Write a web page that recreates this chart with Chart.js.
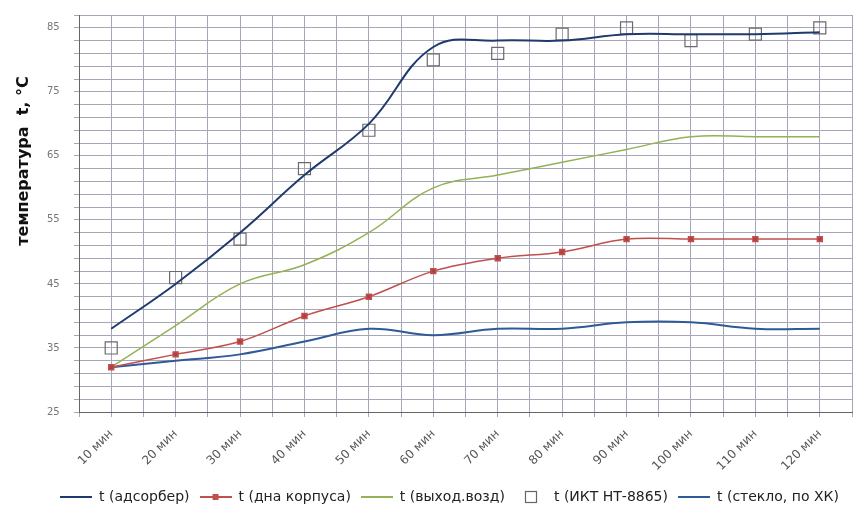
<!DOCTYPE html>
<html>
<head>
<meta charset="utf-8">
<script src="https://cdn.jsdelivr.net/npm/chart.js@4/dist/chart.umd.min.js"></script>
<style>
  html, body { margin: 0; padding: 0; background: #fff; }
  #wrap { width: 868px; height: 517px; }
</style>
</head>
<body>
<div id="wrap"><canvas id="tempChart"></canvas></div>
<script>
// время замера
const categories = ["10 мин", "20 мин", "30 мин", "40 мин", "50 мин", "60 мин",
  "70 мин", "80 мин", "90 мин", "100 мин", "110 мин", "120 мин"];

const adsorber = [38, 45, 53, 62, 70, 82, 83, 83, 84, 84, 84, 84.3];
const bottom = [32, 34, 36, 40, 43, 47, 49, 50, 52, 52, 52, 52];
const outletAir = [32, 38.5, 45, 48, 53, 60, 62, 64, 66, 68, 68, 68];
const iktPoints = [35, 46, 52, 63, 69, 80, 81, 84, 85, 83, 84, 85];
const glass = [32, 33, 34, 36, 38, 37, 38, 38, 39, 39, 38, 38];

const yTickLabels = [25, 35, 45, 55, 65, 75, 85];

const FONT = "'DejaVu Sans', Verdana, sans-serif";

function toPoints(arr) {
  return arr.map((v, i) => ({ x: i + 1, y: v }));
}

// значок легенды: линия, при необходимости с маркером посередине
function legendIcon(color, marker, lineOn) {
  const c = document.createElement("canvas");
  c.width = 32;
  c.height = 14;
  const g = c.getContext("2d");
  if (lineOn) {
    g.strokeStyle = color;
    g.lineWidth = 2;
    g.beginPath();
    g.moveTo(0, 7);
    g.lineTo(32, 7);
    g.stroke();
  }
  if (marker === "dot") {
    g.fillStyle = color;
    g.fillRect(13, 4, 6, 6);
  } else if (marker === "box") {
    g.strokeStyle = "#666";
    g.lineWidth = 1.2;
    g.strokeRect(10.5, 1.5, 11, 11);
  }
  return c;
}

const legendIcons = [
  legendIcon("#1f3a6e", null, true),
  legendIcon("#c0504d", "dot", true),
  legendIcon("#93b255", null, true),
  legendIcon("#666", "box", false),
  legendIcon("#2f5a98", null, true),
];

// подпись оси Y рисуем сами (она смещена вверх относительно центра)
const yTitlePlugin = {
  id: "yTitle",
  afterDraw(chart) {
    const ctx = chart.ctx;
    ctx.save();
    ctx.translate(24, 161);
    ctx.rotate(-Math.PI / 2);
    ctx.fillStyle = "#111";
    ctx.font = "bold 16px " + FONT;
    ctx.textAlign = "center";
    ctx.textBaseline = "middle";
    ctx.fillText("температура  t, °C", 0, 0);
    ctx.restore();
  },
};

const ctx = document.getElementById("tempChart").getContext("2d");
new Chart(ctx, {
  type: "line",
  data: {
    datasets: [
      {
        label: "t (адсорбер)",
        data: toPoints(adsorber),
        borderColor: "#1f3a6e",
        backgroundColor: "#1f3a6e",
        borderWidth: 2,
        pointRadius: 0,
        tension: 0.4,
      },
      {
        label: "t (дна корпуса)",
        data: toPoints(bottom),
        borderColor: "#c0504d",
        backgroundColor: "#b04040",
        borderWidth: 1.5,
        pointRadius: 3.5,
        pointStyle: "rect",
        tension: 0.35,
      },
      {
        label: "t (выход.возд)",
        data: toPoints(outletAir),
        borderColor: "#93b255",
        backgroundColor: "#93b255",
        borderWidth: 1.5,
        pointRadius: 0,
        tension: 0.4,
      },
      {
        label: "t (ИКТ НТ-8865)",
        data: toPoints(iktPoints),
        showLine: false,
        borderColor: "#6a6a6a",
        backgroundColor: "rgba(255,255,255,0)",
        borderWidth: 1.2,
        pointRadius: 8.5,
        pointStyle: "rect",
      },
      {
        label: "t (стекло, по ХК)",
        data: toPoints(glass),
        borderColor: "#2f5a98",
        backgroundColor: "#2f5a98",
        borderWidth: 2,
        pointRadius: 0,
        tension: 0.4,
      },
    ],
  },
  options: {
    responsive: true,
    maintainAspectRatio: false,
    animation: false,
    layout: {
      padding: { left: 47, right: 16, top: 15, bottom: 3 },
    },
    plugins: {
      legend: {
        position: "bottom",
        labels: {
          usePointStyle: true,
          pointStyleWidth: 32,
          boxHeight: 8,
          padding: 10,
          color: "#222",
          font: { size: 14, family: FONT },
          generateLabels: (chart) =>
            Chart.defaults.plugins.legend.labels
              .generateLabels(chart)
              .map((item, i) => ({ ...item, pointStyle: legendIcons[i] })),
        },
      },
      tooltip: { enabled: false },
    },
    scales: {
      x: {
        type: "linear",
        min: 0.5,
        max: 12.5,
        border: { color: "#666", width: 1 },
        grid: { color: "#a6a6b8", lineWidth: 1, tickLength: 5 },
        afterFit: (scale) => {
          scale.paddingRight = 0;
          scale.height = 68;
        },
        ticks: {
          stepSize: 0.5,
          autoSkip: false,
          minRotation: 45,
          maxRotation: 45,
          padding: 10,
          color: "#555",
          font: { size: 12, family: FONT },
          callback: (v) => (Number.isInteger(v) ? categories[v - 1] : ""),
        },
      },
      y: {
        min: 25,
        max: 87,
        border: { color: "#666", width: 1 },
        grid: { color: "#a6a6b8", lineWidth: 1, tickLength: 5 },
        afterFit: (scale) => {
          scale.width = 32;
        },
        ticks: {
          stepSize: 2,
          autoSkip: false,
          padding: 2,
          crossAlign: "far",
          color: "#777",
          font: { size: 10, family: FONT },
          callback: (v) => (yTickLabels.includes(v) ? v : ""),
        },
      },
    },
  },
  plugins: [yTitlePlugin],
});
</script>
</body>
</html>
